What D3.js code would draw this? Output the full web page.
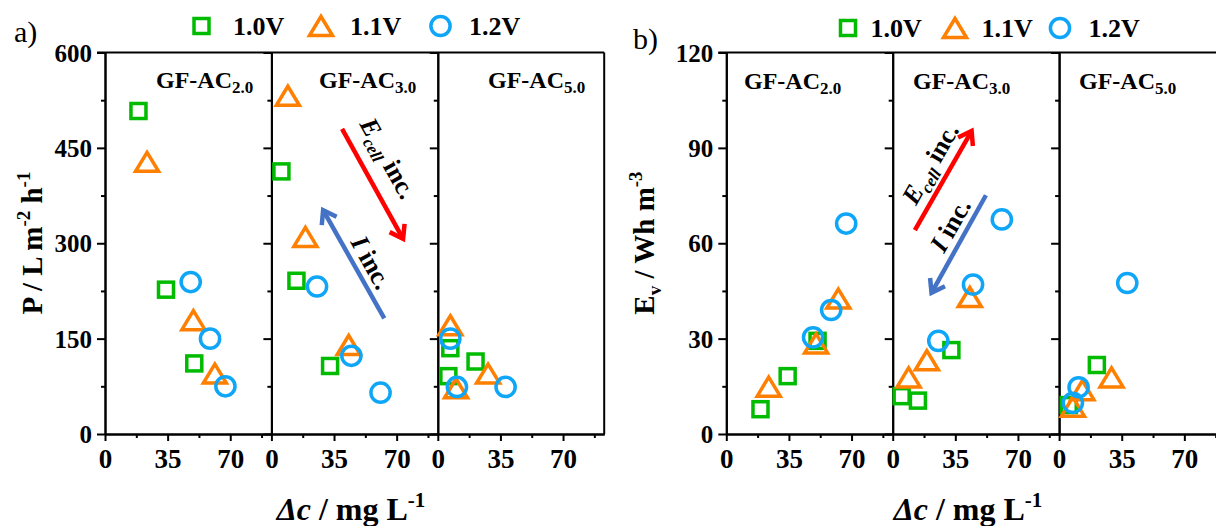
<!DOCTYPE html>
<html>
<head>
<meta charset="utf-8">
<script src="https://cdn.jsdelivr.net/npm/d3@7"></script>
<style>
  html, body { margin: 0; padding: 0; background: #fff; }
  svg { display: block; }
  text { font-family: "Liberation Serif", "Times New Roman", serif; }
</style>
</head>
<body>
<svg id="fig" width="1216" height="526"></svg>
<script>
// ---- shared labels ----
const panelNames = ["GF-AC", "GF-AC", "GF-AC"];
const panelSubs = ["2.0", "3.0", "5.0"];
const seriesNames = ["1.0V", "1.1V", "1.2V"];
const xMajorTicks = [0, 35, 70];
const xMinorTicks = [17.5, 52.5, 87.5];

// ---- a) productivity P (L m-2 h-1) vs Δc, one inner array per electrode ----
const aTicks = [0, 150, 300, 450, 600];
const aDc10 = [[18.7, 34.1, 49.9], [5.6, 14.0, 32.8], [5.9, 7.0, 21.1]];
const aP10  = [[508, 227, 111], [413, 241, 107], [91, 135, 114]];
const aDc11 = [[23.5, 49.4, 61.4], [9.2, 19.0, 43.2], [7.0, 10.2, 28.1]];
const aP11  = [[428, 179, 95], [532, 310, 140], [171, 72, 95]];
const aDc12 = [[47.9, 58.7, 67.3], [25.5, 44.7, 61.0], [7.0, 10.7, 37.9]];
const aP12  = [[239, 150, 75], [232, 123, 65], [150, 74, 74]];

// ---- b) volumetric energy Ev (Wh m-3) vs Δc ----
const bTicks = [0, 30, 60, 90, 120];
const bDc10 = [[19.1, 34.3, 51.0], [5.0, 14.1, 32.8], [5.4, 21.1]];
const bE10  = [[7.8, 18.2, 29.3], [11.9, 10.5, 26.4], [9.1, 21.7]];
const bDc11 = [[23.7, 50.2, 62.6], [8.9, 19.1, 43.1], [7.7, 13.0, 29.3]];
const bE11  = [[14.9, 28.5, 42.6], [17.8, 23.2, 43.1], [8.6, 13.8, 17.8]];
const bDc12 = [[48.5, 58.6, 67.0], [25.5, 44.9, 61.0], [7.7, 10.9, 38.1]];
const bE12  = [[30.4, 39.0, 66.2], [29.3, 47.0, 67.5], [9.8, 14.7, 47.5]];

// trend arrows (drawn in the middle panel, data units: [Δc, value])
const aEcellArrow = [[39.5, 480], [73.6, 307]];
const aIArrow     = [[63.1, 182], [28.9, 352]];
const bEcellArrow = [[12.4, 64.1], [44.1, 95.3]];
const bIArrow     = [[52.1, 75.1], [21.7, 44.4]];
const aEcellLabel = [65.4, 434];
const aILabel     = [56.0, 270];
const bEcellLabel = [20.8, 85.1];
const bILabel     = [32.0, 65.7];

const colors = ["#00bb00", "#ff7f00", "#10a6f8"];
const arrowColors = ["#ff0000", "#4472c4"];
const FONT = '"Liberation Serif", "Times New Roman", serif';

const svg = d3.select("#fig");

// marker shapes: square, triangle, circle (open, thick outline)
function drawMarker(g, kind, x, y, color) {
  const sw = 3.5;
  if (kind === 0) {
    g.append("rect").attr("x", x - 7.5).attr("y", y - 7.5)
      .attr("width", 15).attr("height", 15)
      .attr("fill", "none").attr("stroke", color).attr("stroke-width", sw);
  } else if (kind === 1) {
    g.append("path")
      .attr("d", `M${x},${y - 9.5} L${x + 11.5},${y + 9.5} L${x - 11.5},${y + 9.5} Z`)
      .attr("fill", "none").attr("stroke", color).attr("stroke-width", sw)
      .attr("stroke-linejoin", "miter");
  } else {
    g.append("circle").attr("cx", x).attr("cy", y).attr("r", 9.6)
      .attr("fill", "none").attr("stroke", color).attr("stroke-width", sw);
  }
}

function drawArrow(g, p0, p1, color) {
  const [x0, y0] = p0, [x1, y1] = p1;
  const ang = Math.atan2(y1 - y0, x1 - x0);
  const L = 15, spread = Math.PI / 5.2;
  g.append("line").attr("x1", x0).attr("y1", y0).attr("x2", x1).attr("y2", y1)
    .attr("stroke", color).attr("stroke-width", 4.5).attr("stroke-linecap", "butt");
  const a1 = ang + Math.PI - spread, a2 = ang + Math.PI + spread;
  g.append("path")
    .attr("d", `M${x1 + L * Math.cos(a1)},${y1 + L * Math.sin(a1)} L${x1},${y1} L${x1 + L * Math.cos(a2)},${y1 + L * Math.sin(a2)}`)
    .attr("fill", "none").attr("stroke", color).attr("stroke-width", 4.5)
    .attr("stroke-linejoin", "miter").attr("stroke-linecap", "butt");
  return ang;
}

function styleAxis(g) {
  g.selectAll("path.domain").attr("stroke", "#000").attr("stroke-width", 2);
  g.selectAll(".tick line").attr("stroke", "#000").attr("stroke-width", 2);
}

function buildChart(cfg) {
  const root = svg.append("g");
  const top = 52.5, bottom = 434, panelW = 166.4;
  const y = d3.scaleLinear().domain([0, cfg.yMax]).range([bottom, top]);
  const yMinor = d3.range(cfg.yMax / 8, cfg.yMax, cfg.yMax / 4);
  const xs = [0, 1, 2].map(i =>
    d3.scaleLinear().domain([0, 93]).range([cfg.left + i * panelW, cfg.left + (i + 1) * panelW]));
  const right = cfg.left + 3 * panelW;

  // frame: top and right borders
  root.append("line").attr("x1", cfg.left - 8).attr("x2", right).attr("y1", top).attr("y2", top)
    .attr("stroke", "#000").attr("stroke-width", 2);
  root.append("line").attr("x1", right).attr("x2", right).attr("y1", top).attr("y2", bottom)
    .attr("stroke", "#000").attr("stroke-width", 2);

  xs.forEach((x, i) => {
    // left axis of each panel, ticks pointing outward
    const gyMinor = root.append("g").attr("transform", `translate(${x.range()[0]},0)`)
      .call(d3.axisLeft(y).tickValues(yMinor).tickSize(4).tickSizeOuter(0).tickFormat(""));
    styleAxis(gyMinor);
    const gy = root.append("g").attr("transform", `translate(${x.range()[0]},0)`)
      .call(d3.axisLeft(y).tickValues(cfg.yTicks).tickSize(8).tickSizeOuter(0)
        .tickFormat(i === 0 ? d3.format("d") : ""));
    styleAxis(gy);
    gy.selectAll(".tick text").attr("x", -13).attr("font-family", FONT)
      .attr("font-size", 25).attr("font-weight", "bold").attr("fill", "#000")
      .attr("dy", "0.34em");

    // bottom axis
    const gxMinor = root.append("g").attr("transform", `translate(0,${bottom})`)
      .call(d3.axisBottom(x).tickValues(xMinorTicks).tickSize(4).tickSizeOuter(0).tickFormat(""));
    styleAxis(gxMinor);
    const gx = root.append("g").attr("transform", `translate(0,${bottom})`)
      .call(d3.axisBottom(x).tickValues(xMajorTicks).tickSize(7).tickSizeOuter(0).tickFormat(d3.format("d")));
    styleAxis(gx);
    gx.selectAll(".tick text").attr("y", 34).attr("dy", 0).attr("font-family", FONT)
      .attr("font-size", 27).attr("font-weight", "bold").attr("fill", "#000");

    // panel label
    const lab = root.append("text").attr("x", cfg.labelX[i]).attr("y", cfg.labelY)
      .attr("font-size", 24).attr("font-weight", "bold").attr("fill", "#000");
    lab.append("tspan").text(panelNames[i]);
    lab.append("tspan").attr("font-size", 17).attr("dy", 5).text(panelSubs[i]);

    // data: squares, then triangles, then circles on top
    const mg = root.append("g");
    cfg.series.forEach((s, k) => {
      s.dc[i].forEach((d, j) => drawMarker(mg, k, x(d), y(s.v[i][j]), colors[k]));
    });
  });

  // trend arrows with labels in the middle panel
  const xm = xs[1];
  const toPx = p => [xm(p[0]), y(p[1])];
  const ag = root.append("g");
  const angE = drawArrow(ag, toPx(cfg.ecellArrow[0]), toPx(cfg.ecellArrow[1]), arrowColors[0]);
  drawArrow(ag, toPx(cfg.iArrow[0]), toPx(cfg.iArrow[1]), arrowColors[1]);
  const rot = angE * 180 / Math.PI + (Math.abs(angE) > Math.PI / 2 ? 180 : 0);
  const [ex, ey] = toPx(cfg.ecellLabel);
  const te = ag.append("text").attr("transform", `translate(${ex},${ey}) rotate(${rot})`)
    .attr("text-anchor", "middle").attr("dy", "0.35em")
    .attr("font-size", 26).attr("font-weight", "bold").attr("fill", "#000");
  te.append("tspan").attr("font-style", "italic").text("E");
  te.append("tspan").attr("font-style", "italic").attr("font-size", 17).attr("dy", 6).text("cell");
  te.append("tspan").attr("dy", -6).text(" inc.");
  const [ix, iy] = toPx(cfg.iLabel);
  const ti = ag.append("text").attr("transform", `translate(${ix},${iy}) rotate(${rot})`)
    .attr("text-anchor", "middle").attr("dy", "0.35em")
    .attr("font-size", 26).attr("font-weight", "bold").attr("fill", "#000");
  ti.append("tspan").attr("font-style", "italic").text("I");
  ti.append("tspan").text(" inc.");

  // legend
  const lg = root.append("g");
  seriesNames.forEach((name, k) => {
    drawMarker(lg, k, cfg.legendMarkX[k], cfg.legendY - 9, colors[k]);
    lg.append("text").attr("x", cfg.legendTextX[k]).attr("y", cfg.legendY)
      .attr("font-size", 26).attr("font-weight", "bold").attr("fill", "#000").text(name);
  });

  // panel letter
  root.append("text").attr("x", cfg.letterX).attr("y", cfg.letterY)
    .attr("font-size", 30).attr("fill", "#000").text(cfg.letter);

  // y title
  const yt = root.append("text")
    .attr("transform", `translate(${cfg.yTitleX},243) rotate(-90)`)
    .attr("text-anchor", "middle").attr("font-size", 29).attr("font-weight", "bold").attr("fill", "#000");
  cfg.yTitle.forEach(part => {
    const t = yt.append("tspan").text(part.t);
    if (part.sup) t.attr("font-size", 19).attr("dy", -12);
    if (part.sub) t.attr("font-size", 19).attr("dy", 7);
    if (part.back) t.attr("dy", part.back);
  });

  // x title
  const xt = root.append("text").attr("x", cfg.xTitleX).attr("y", 520)
    .attr("text-anchor", "middle").attr("font-size", 32).attr("font-weight", "bold").attr("fill", "#000");
  xt.append("tspan").attr("font-style", "italic").text("Δc");
  xt.append("tspan").text(" / mg L");
  xt.append("tspan").attr("font-size", 21).attr("dy", -13).text("-1");
}

buildChart({
  left: 105, yMax: 600, yTicks: aTicks,
  series: [{ dc: aDc10, v: aP10 }, { dc: aDc11, v: aP11 }, { dc: aDc12, v: aP12 }],
  labelX: [156, 319, 488], labelY: 88,
  ecellArrow: aEcellArrow, iArrow: aIArrow, ecellLabel: aEcellLabel, iLabel: aILabel,
  legendMarkX: [201.5, 321, 440.5], legendTextX: [233, 350, 469], legendY: 35,
  letter: "a)", letterX: 14, letterY: 42,
  yTitleX: 42,
  yTitle: [{ t: "P / L m" }, { t: "-2", sup: true }, { t: " h", back: 12 }, { t: "-1", sup: true }],
  xTitleX: 351
});

buildChart({
  left: 726.3, yMax: 120, yTicks: bTicks,
  series: [{ dc: bDc10, v: bE10 }, { dc: bDc11, v: bE11 }, { dc: bDc12, v: bE12 }],
  labelX: [744, 913, 1079], labelY: 89,
  ecellArrow: bEcellArrow, iArrow: bIArrow, ecellLabel: bEcellLabel, iLabel: bILabel,
  legendMarkX: [848, 955, 1060], legendTextX: [870.6, 981.5, 1088.5], legendY: 37,
  letter: "b)", letterX: 633, letterY: 49,
  yTitleX: 654,
  yTitle: [{ t: "E" }, { t: "v", sub: true }, { t: " / Wh m", back: -7 }, { t: "-3", sup: true }],
  xTitleX: 968
});
</script>
</body>
</html>
